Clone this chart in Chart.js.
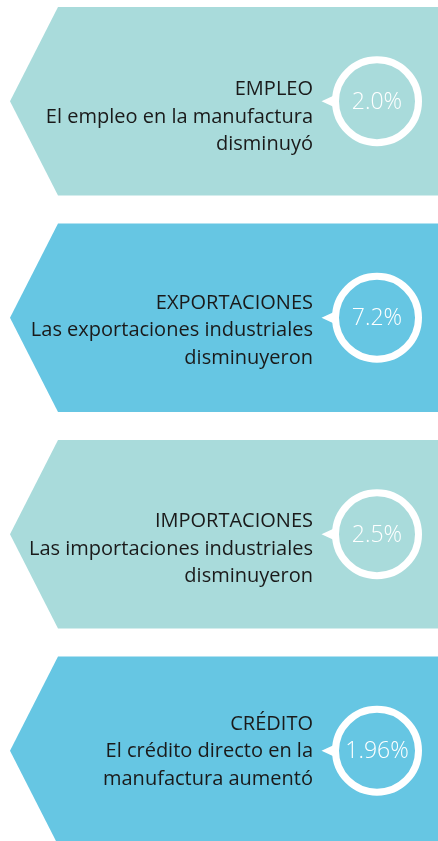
<!DOCTYPE html>
<html>
<head>
<meta charset="utf-8">
<script src="https://cdn.jsdelivr.net/npm/chart.js@4"></script>
<style>
  html, body { margin: 0; padding: 0; background: #ffffff; overflow: hidden; }
  #wrap { position: absolute; left: 0; top: -7px; width: 438px; height: 866px; }
</style>
</head>
<body>
<div id="wrap"><canvas id="chart"></canvas></div>
<script>
// indicadores de la manufactura
const titles = ["EMPLEO", "EXPORTACIONES", "IMPORTACIONES", "CRÉDITO"];
const descriptions = [
  ["El empleo en la manufactura", "disminuyó"],
  ["Las exportaciones industriales", "disminuyeron"],
  ["Las importaciones industriales", "disminuyeron"],
  ["El crédito directo en la", "manufactura aumentó"],
];
const percentValues = [2.0, 7.2, 2.5, 1.96];
const percentLabels = ["2.0%", "7.2%", "2.5%", "1.96%"];

const panelColors = ["#a9dbdb", "#66c6e3", "#a9dbdb", "#66c6e3"];
// desplazamiento vertical del bloque de texto respecto al círculo
const textShift = [-6, -9, -7, -21];

const panelPlugin = {
  id: "panels",
  beforeDatasetDraw(chart) {
    const { ctx, chartArea } = chart;
    const meta = chart.getDatasetMeta(0);
    meta.data.forEach((bar, i) => {
      const top = bar.y - bar.height / 2;
      const bottom = bar.y + bar.height / 2;
      const tipX = chartArea.left + 10;
      const cornerX = tipX + 48;

      // panel en forma de flecha
      ctx.save();
      ctx.fillStyle = panelColors[i];
      ctx.beginPath();
      ctx.moveTo(tipX, bar.y);
      ctx.lineTo(cornerX, top);
      ctx.lineTo(chartArea.right, top);
      ctx.lineTo(chartArea.right, bottom);
      ctx.lineTo(cornerX, bottom);
      ctx.closePath();
      ctx.fill();

      // círculo con piquito
      const cx = 377, cy = bar.y, r = 41.5;
      ctx.strokeStyle = "#ffffff";
      ctx.fillStyle = "#ffffff";
      ctx.lineWidth = 7;
      ctx.beginPath();
      ctx.arc(cx, cy, r, 0, Math.PI * 2);
      ctx.stroke();
      ctx.beginPath();
      ctx.moveTo(cx - r - 1, cy - 6);
      ctx.lineTo(cx - r - 14, cy);
      ctx.lineTo(cx - r - 1, cy + 6);
      ctx.closePath();
      ctx.fill();

      // valor
      ctx.font = "300 23px 'Open Sans'";
      ctx.textAlign = "center";
      ctx.textBaseline = "middle";
      ctx.fillText(percentLabels[i], cx, cy + 1);

      // textos
      ctx.fillStyle = "#1a1a1a";
      ctx.font = "20px 'Open Sans'";
      ctx.textAlign = "right";
      ctx.textBaseline = "alphabetic";
      const lines = [titles[i]].concat(descriptions[i]);
      lines.forEach((t, k) => {
        ctx.fillText(t, 313, cy + textShift[i] + k * 27.5);
      });
      ctx.restore();
    });
    return false;
  },
};

new Chart(document.getElementById("chart"), {
  type: "bar",
  data: {
    labels: titles,
    datasets: [
      {
        label: "Variación (%)",
        data: percentValues,
        backgroundColor: panelColors,
        categoryPercentage: 1,
        barPercentage: 0.87,
      },
    ],
  },
  options: {
    indexAxis: "y",
    responsive: true,
    maintainAspectRatio: false,
    animation: false,
    layout: { padding: 0 },
    plugins: { legend: { display: false }, tooltip: { enabled: false } },
    scales: {
      x: { display: false, min: 0, max: 10 },
      y: { display: false, grid: { display: false } },
    },
  },
  plugins: [panelPlugin],
});
</script>
</body>
</html>
